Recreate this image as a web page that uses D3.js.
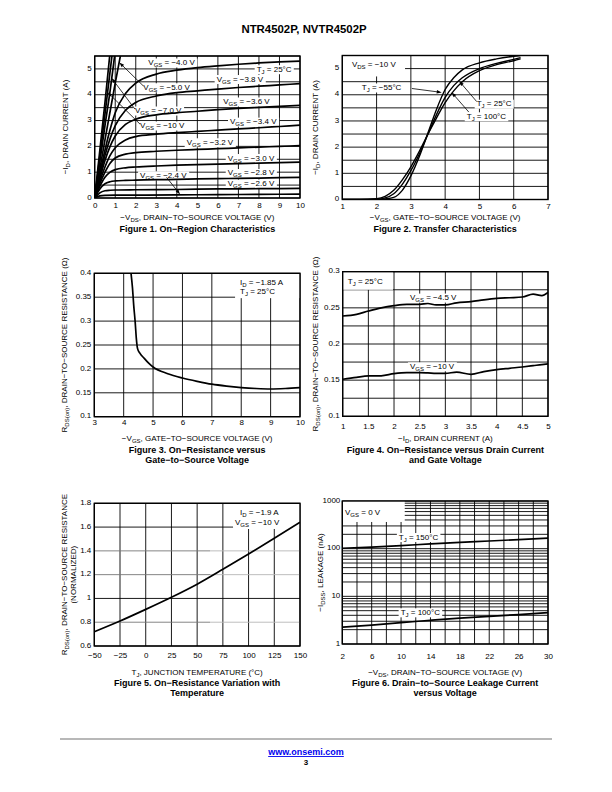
<!DOCTYPE html>
<html><head><meta charset="utf-8">
<script src="https://cdn.jsdelivr.net/npm/d3@7/dist/d3.min.js"></script>
<style>
body{margin:0;background:#fff}
svg{display:block}
text{font-family:"Liberation Sans",Arial,Helvetica,sans-serif;fill:#000}
</style>
</head><body>
<svg id="page" width="612" height="792"></svg>
<script>
// ---------------- DATA ----------------
// Figure 1: On-Region Characteristics (-VDS [V], -ID [A])
const fig1XTicks = [0,1,2,3,4,5,6,7,8,9,10];
const fig1YTicks = [0,1,2,3,4,5];
const fig1Vgs10 = [[0,0],[0.25,1.85],[0.5,3.7],[0.73,5.5]];
const fig1Vgs7  = [[0,0],[0.25,1.62],[0.5,3.25],[0.84,5.5]];
const fig1Vgs5  = [[0,0],[0.25,1.4],[0.5,2.8],[0.75,4.15],[0.97,5.5]];
const fig1Vgs45 = [[0,0],[0.25,1.12],[0.5,2.25],[0.75,3.35],[1.0,4.45],[1.25,5.5]];
const fig1Vgs40 = [[0,0],[0.25,0.95],[0.5,1.85],[0.75,2.65],[1,3.3],[1.5,4.05],[2,4.45],[3,4.8],[4,4.95],[5,5.05],[6,5.12],[7,5.18],[8,5.23],[9,5.27],[10,5.3]];
const fig1Vgs38 = [[0,0],[0.25,0.85],[0.5,1.65],[0.75,2.3],[1,2.8],[1.5,3.4],[2,3.7],[3,3.95],[4,4.08],[5,4.15],[6,4.22],[7,4.28],[8,4.33],[9,4.38],[10,4.43]];
const fig1Vgs36 = [[0,0],[0.25,0.75],[0.5,1.45],[0.75,2.0],[1,2.4],[1.5,2.85],[2,3.05],[3,3.22],[4,3.3],[5,3.36],[6,3.42],[7,3.47],[8,3.51],[9,3.55],[10,3.59]];
const fig1Vgs34 = [[0,0],[0.25,0.65],[0.5,1.2],[0.75,1.65],[1,1.95],[1.5,2.25],[2,2.38],[3,2.47],[4,2.53],[5,2.58],[6,2.63],[7,2.68],[8,2.72],[9,2.77],[10,2.82]];
const fig1Vgs32 = [[0,0],[0.25,0.55],[0.5,1.0],[0.75,1.35],[1,1.55],[1.5,1.7],[2,1.76],[3,1.81],[4,1.85],[5,1.88],[6,1.91],[7,1.94],[8,1.97],[9,2.0],[10,2.03]];
const fig1Vgs30 = [[0,0],[0.25,0.45],[0.5,0.8],[0.75,1.0],[1,1.1],[1.5,1.17],[2,1.2],[3,1.24],[4,1.27],[5,1.29],[6,1.31],[7,1.33],[8,1.35],[9,1.37],[10,1.39]];
const fig1Vgs28 = [[0,0],[0.25,0.35],[0.5,0.55],[0.75,0.63],[1,0.66],[1.5,0.68],[2,0.69],[3,0.71],[4,0.72],[5,0.74],[6,0.75],[7,0.76],[8,0.77],[9,0.79],[10,0.8]];
const fig1Vgs26 = [[0,0],[0.25,0.2],[0.5,0.28],[0.75,0.3],[1,0.31],[2,0.32],[4,0.33],[6,0.35],[8,0.36],[10,0.37]];
const fig1Vgs24 = [[0,0],[0.25,0.08],[0.5,0.1],[1,0.11],[2,0.11],[4,0.12],[6,0.13],[8,0.14],[10,0.15]];

// Figure 2: Transfer Characteristics (-VGS [V], -ID [A])
const fig2XTicks = [1,2,3,4,5,6,7];
const fig2YTicks = [0,1,2,3,4,5];
const fig2Vgs    = [1, 1.5, 2, 2.25, 2.5, 2.75, 3, 3.25, 3.5, 3.75, 4, 4.25, 4.5, 5, 5.5, 6, 6.2];
const fig2IdM55  = [0, 0, 0, 0.02, 0.08, 0.35, 0.9, 1.65, 2.55, 3.45, 4.2, 4.65, 4.95, 5.22, 5.37, 5.47, 5.5];
const fig2Id25   = [0, 0, 0.01, 0.06, 0.22, 0.58, 1.1, 1.75, 2.5, 3.25, 3.9, 4.35, 4.65, 5.0, 5.2, 5.35, 5.42];
const fig2Id100  = [0, 0, 0.03, 0.12, 0.35, 0.75, 1.25, 1.85, 2.5, 3.12, 3.7, 4.15, 4.5, 4.92, 5.15, 5.3, 5.37];

// Figure 3: RDS(on) vs -VGS
const fig3XTicks = [3,4,5,6,7,8,9,10];
const fig3YTicks = [0.1,0.15,0.2,0.25,0.3,0.35,0.4];
const fig3Vgs = [4.25, 4.3, 4.34, 4.39, 4.43, 4.47, 4.55, 4.7, 4.85, 5, 5.5, 6, 6.5, 7, 7.5, 8, 8.5, 9, 9.5, 10];
const fig3Rds = [0.4, 0.369, 0.334, 0.299, 0.264, 0.243, 0.233, 0.222, 0.212, 0.204, 0.19, 0.181, 0.174, 0.168, 0.164, 0.161, 0.159, 0.158, 0.159, 0.161];

// Figure 4: RDS(on) vs -ID
const fig4XTicks = [1,1.5,2,2.5,3,3.5,4,4.5,5];
const fig4YTicks = [0.1,0.15,0.2,0.25,0.3];
const fig4Id    = [1, 1.27, 1.5, 1.75, 2, 2.25, 2.5, 2.66, 2.82, 3, 3.22, 3.5, 3.75, 4, 4.25, 4.5, 4.71, 4.88, 5];
const fig4Rds45 = [0.2387, 0.241, 0.2456, 0.250, 0.253, 0.2548, 0.2548, 0.256, 0.254, 0.254, 0.257, 0.2585, 0.261, 0.263, 0.264, 0.265, 0.269, 0.267, 0.2714];
const fig4Rds10 = [0.1512, 0.1539, 0.1558, 0.156, 0.159, 0.1604, 0.1604, 0.16, 0.1594, 0.1594, 0.161, 0.1581, 0.1618, 0.1645, 0.1664, 0.1682, 0.170, 0.1715, 0.1724];

// Figure 5: normalized RDS(on) vs TJ
const fig5XTicks = [-50,-25,0,25,50,75,100,125,150];
const fig5YTicks = [0.6,0.8,1,1.2,1.4,1.6,1.8];
const fig5Tj  = [-50, -25, 0, 25, 50, 75, 100, 125, 150];
const fig5Rds = [0.72, 0.81, 0.908, 1.01, 1.12, 1.245, 1.374, 1.506, 1.64];

// Figure 6: -IDSS leakage vs -VDS
const fig6XTicks = [2,6,10,14,18,22,26,30];
const fig6YTicks = [1,10,100,1000];
const fig6Vds  = [2, 6, 10, 14, 18, 22, 26, 30];
const fig6I150 = [102, 108, 116, 126, 136, 145, 155, 166];
const fig6I100 = [2.25, 2.5, 2.8, 3.15, 3.5, 3.8, 4.15, 4.55];

// ---------------- DRAWING ----------------
const svg = d3.select("#page");
const FS = 8;

function rich(t, parts, subSize) {
  let shifted = false;
  parts.forEach(p => {
    const s = t.append("tspan").text(p[0]);
    if (p[1] === "sub") { s.attr("font-size", subSize || 6).attr("dy", 2); shifted = true; }
    else if (shifted) { s.attr("dy", -2); shifted = false; }
  });
  return t;
}
const zip = (xs, ys) => xs.map((v, i) => [v, ys[i]]);

function panel(c) {
  const g = svg.append("g");
  const x = (c.xLog ? d3.scaleLog() : d3.scaleLinear()).domain(c.xDomain).range([c.L, c.R]);
  const y = (c.yLog ? d3.scaleLog() : d3.scaleLinear()).domain(c.yDomain).range([c.B, c.T]);
  const id = "clip" + c.id;
  g.append("clipPath").attr("id", id).append("rect")
    .attr("x", c.L).attr("y", c.T).attr("width", c.R - c.L).attr("height", c.B - c.T);
  g.append("rect").attr("x", c.L).attr("y", c.T).attr("width", c.R - c.L).attr("height", c.B - c.T).attr("fill", "#fff");
  const grid = g.append("g").attr("stroke", "#000").attr("stroke-width", 0.9);
  c.xGrid.forEach(v => grid.append("line").attr("x1", x(v)).attr("x2", x(v)).attr("y1", c.T).attr("y2", c.B));
  c.yGrid.forEach(v => {
    if (c.graySplit && c.graySplit.values.includes(v)) {
      grid.append("line").attr("x1", c.L).attr("x2", x(c.graySplit.at)).attr("y1", y(v)).attr("y2", y(v)).attr("stroke", "#777");
      grid.append("line").attr("x1", x(c.graySplit.at)).attr("x2", c.R).attr("y1", y(v)).attr("y2", y(v)).attr("stroke", "#b5b5b5");
    } else {
      grid.append("line").attr("x1", c.L).attr("x2", c.R).attr("y1", y(v)).attr("y2", y(v));
    }
  });
  const boxLayer = g.append("g");
  const curveLayer = g.append("g").attr("clip-path", `url(#${id})`);
  const line = d3.line().x(d => x(d[0])).y(d => y(d[1])).curve(d3.curveMonotoneX);
  c.series.forEach(s => curveLayer.append("path").attr("d", line(s)).attr("fill", "none")
    .attr("stroke", "#000").attr("stroke-width", c.curveW || 1.7).attr("stroke-linejoin", "round"));
  g.append("rect").attr("x", c.L).attr("y", c.T).attr("width", c.R - c.L).attr("height", c.B - c.T)
    .attr("fill", "none").attr("stroke", "#000").attr("stroke-width", 1.4);

  // axes (tick labels only)
  const fmt = c.fmt || d3.format("");
  const xa = g.append("g").attr("transform", `translate(0,${c.B})`)
    .call(d3.axisBottom(x).tickValues(c.xTicks).tickSize(0).tickPadding(c.xPad || 4).tickFormat(fmt));
  const ya = g.append("g").attr("transform", `translate(${c.L},0)`)
    .call(d3.axisLeft(y).tickValues(c.yTicks).tickSize(0).tickPadding(c.yPad || 3).tickFormat(fmt));
  [xa, ya].forEach(a => {
    a.select(".domain").remove();
    a.selectAll("text").attr("font-size", FS).attr("font-family", null).attr("fill", "#000");
  });
  ya.selectAll("text").attr("dy", "0.15em");

  // annotations
  const noteLayer = g.append("g");
  (c.notes || []).forEach(n => {
    const t = noteLayer.append("text").attr("x", x(n.x)).attr("y", y(n.y)).attr("dy", "0.35em")
      .attr("font-size", FS).attr("text-anchor", n.anchor || "start");
    rich(t, n.parts);
    let bx;
    if (n.box) {
      bx = {x: x(n.box[0]), y: y(n.box[3]), w: x(n.box[2]) - x(n.box[0]), h: y(n.box[1]) - y(n.box[3])};
    } else {
      const b = t.node().getBBox();
      bx = {x: b.x - 2, y: b.y + 0.5, w: b.width + 4, h: b.height - 1};
    }
    boxLayer.append("rect").attr("x", bx.x).attr("y", bx.y).attr("width", bx.w).attr("height", bx.h).attr("fill", "#fff");
  });
  (c.arrows || []).forEach(a => {
    const x0 = x(a[0]), y0 = y(a[1]), x1 = x(a[2]), y1 = y(a[3]);
    const ang = Math.atan2(y1 - y0, x1 - x0), L = 5, W = 1.7;
    noteLayer.append("line").attr("x1", x0).attr("y1", y0)
      .attr("x2", x1 - Math.cos(ang) * L * 0.8).attr("y2", y1 - Math.sin(ang) * L * 0.8)
      .attr("stroke", "#000").attr("stroke-width", 0.8);
    const bxp = x1 - Math.cos(ang) * L, byp = y1 - Math.sin(ang) * L;
    noteLayer.append("path").attr("d",
      `M${x1},${y1}L${bxp + Math.sin(ang) * W},${byp - Math.cos(ang) * W}L${bxp - Math.sin(ang) * W},${byp + Math.cos(ang) * W}Z`)
      .attr("fill", "#000");
  });

  // axis titles
  const cx = (c.L + c.R) / 2, cy = (c.T + c.B) / 2;
  rich(g.append("text").attr("x", cx).attr("y", c.xTitleY).attr("text-anchor", "middle").attr("font-size", FS), c.xTitle);
  c.yTitles.forEach(yt => {
    rich(g.append("text").attr("transform", `translate(${yt.x},${cy}) rotate(-90)`).attr("dy", "0.35em")
      .attr("text-anchor", "middle").attr("font-size", FS), yt.parts);
  });
  c.caption.forEach((cap, i) => {
    g.append("text").attr("x", cx).attr("y", c.capY + i * 10.8).attr("text-anchor", "middle")
      .attr("font-size", 9).attr("font-weight", "bold").text(cap);
  });
}

// header
svg.append("text").attr("x", 304).attr("y", 32.5).attr("text-anchor", "middle")
  .attr("font-size", 11.4).attr("font-weight", "bold").text("NTR4502P, NVTR4502P");

const VGS = v => [["V"], ["GS", "sub"], [" = −" + v + " V"]];
const TJ = v => [["T"], ["J", "sub"], [" = " + v + "°C"]];
const rdsTitle = [["R"], ["DS(on)", "sub"], [", DRAIN−TO−SOURCE RESISTANCE (Ω)"]];

// Figure 1
panel({
  id: 1, L: 94.7, R: 300, T: 56, B: 198,
  xDomain: [0, 10], yDomain: [0, 5.5],
  xGrid: d3.range(0, 10.01, 1), yGrid: d3.range(0, 5.51, 0.5),
  xTicks: fig1XTicks, yTicks: fig1YTicks, xPad: 4.3,
  series: [fig1Vgs10, fig1Vgs7, fig1Vgs5, fig1Vgs45, fig1Vgs40, fig1Vgs38, fig1Vgs36, fig1Vgs34, fig1Vgs32, fig1Vgs30, fig1Vgs28, fig1Vgs26, fig1Vgs24],
  notes: [
    {parts: VGS("4.0"), x: 2.61, y: 5.26},
    {parts: TJ("25"), x: 7.89, y: 5.0},
    {parts: VGS("3.8"), x: 5.94, y: 4.62},
    {parts: VGS("5.0"), x: 2.37, y: 4.30},
    {parts: VGS("3.6"), x: 6.26, y: 3.75},
    {parts: VGS("7.0"), x: 1.96, y: 3.40},
    {parts: VGS("3.4"), x: 6.59, y: 2.97},
    {parts: VGS("10"), x: 2.21, y: 2.82},
    {parts: VGS("3.2"), x: 4.48, y: 2.17},
    {parts: VGS("3.0"), x: 6.48, y: 1.56},
    {parts: VGS("2.8"), x: 6.48, y: 0.98},
    {parts: VGS("2.4"), x: 2.21, y: 0.89},
    {parts: VGS("2.6"), x: 6.48, y: 0.57}
  ],
  arrows: [[2.37, 4.34, 1.2, 5.25], [1.96, 3.44, 0.82, 4.65], [2.21, 2.86, 0.62, 4.1], [3.5, 0.8, 4.16, 0.14]],
  xTitle: [["−V"], ["DS", "sub"], [", DRAIN−TO−SOURCE VOLTAGE (V)"]], xTitleY: 220,
  yTitles: [{x: 65, parts: [["−I"], ["D", "sub"], [", DRAIN CURRENT (A)"]]}],
  caption: ["Figure 1. On−Region Characteristics"], capY: 231.8
});

// Figure 2
panel({
  id: 2, L: 342.3, R: 548, T: 55.5, B: 199.5,
  xDomain: [1, 7], yDomain: [0, 5.5],
  xGrid: d3.range(1, 7.01, 1), yGrid: d3.range(0, 5.51, 0.5),
  xTicks: fig2XTicks, yTicks: fig2YTicks, xPad: 4, curveW: 1.4,
  series: [zip(fig2Vgs, fig2IdM55), zip(fig2Vgs, fig2Id25), zip(fig2Vgs, fig2Id100)],
  notes: [
    {parts: [["V"], ["DS", "sub"], [" = −10 V"]], x: 1.28, y: 5.17, box: [1.0, 4.7, 2.83, 5.5]},
    {parts: TJ("−55"), x: 1.57, y: 4.29},
    {parts: TJ("25"), x: 4.92, y: 3.67},
    {parts: TJ("100"), x: 4.63, y: 3.19}
  ],
  arrows: [[3.03, 4.24, 3.9, 4.09], [4.92, 3.74, 4.41, 4.52], [4.69, 3.34, 4.19, 4.09]],
  xTitle: [["−V"], ["GS", "sub"], [", GATE−TO−SOURCE VOLTAGE (V)"]], xTitleY: 220,
  yTitles: [{x: 315.5, parts: [["−I"], ["D", "sub"], [", DRAIN CURRENT (A)"]]}],
  caption: ["Figure 2. Transfer Characteristics"], capY: 231.8
});

// Figure 3
panel({
  id: 3, L: 94.3, R: 300, T: 273.3, B: 416.7,
  xDomain: [3, 10], yDomain: [0.1, 0.4],
  xGrid: d3.range(3, 10.01, 1), yGrid: d3.range(0.1, 0.401, 0.05),
  xTicks: fig3XTicks, yTicks: fig3YTicks, xPad: 3,
  series: [zip(fig3Vgs, fig3Rds)],
  notes: [
    {parts: [["I"], ["D", "sub"], [" = −1.85 A"]], x: 7.96, y: 0.381, box: [7.79, 0.348, 10, 0.4]},
    {parts: TJ("25"), x: 7.96, y: 0.363}
  ],
  xTitle: [["−V"], ["GS", "sub"], [", GATE−TO−SOURCE VOLTAGE (V)"]], xTitleY: 441,
  yTitles: [{x: 64, parts: rdsTitle}],
  caption: ["Figure 3. On−Resistance versus", "Gate−to−Source Voltage"], capY: 452.5
});

// Figure 4
panel({
  id: 4, L: 342.7, R: 548, T: 271.7, B: 416.3,
  xDomain: [1, 5], yDomain: [0.1, 0.3],
  xGrid: d3.range(1, 5.01, 0.5), yGrid: d3.range(0.1, 0.301, 0.025),
  xTicks: fig4XTicks, yTicks: fig4YTicks, xPad: 7,
  series: [zip(fig4Id, fig4Rds45), zip(fig4Id, fig4Rds10)],
  notes: [
    {parts: TJ("25"), x: 1.10, y: 0.287, box: [1.0, 0.275, 1.98, 0.3]},
    {parts: VGS("4.5"), x: 2.31, y: 0.2646},
    {parts: VGS("10"), x: 2.31, y: 0.1696}
  ],
  xTitle: [["−I"], ["D", "sub"], [", DRAIN CURRENT (A)"]], xTitleY: 441,
  yTitles: [{x: 315, parts: rdsTitle}],
  caption: ["Figure 4. On−Resistance versus Drain Current", "and Gate Voltage"], capY: 452.5
});

// Figure 5
panel({
  id: 5, L: 94.3, R: 300, T: 503.3, B: 646,
  xDomain: [-50, 150], yDomain: [0.6, 1.8],
  xGrid: d3.range(-50, 150.1, 25), yGrid: d3.range(0.6, 1.801, 0.2).map(v => +v.toFixed(1)),
  graySplit: {values: [0.8, 1.2, 1.4], at: 62.5},
  xTicks: fig5XTicks, yTicks: fig5YTicks, xPad: 6.5,
  series: [zip(fig5Tj, fig5Rds)],
  notes: [
    {parts: [["I"], ["D", "sub"], [" = −1.9 A"]], x: 91.7, y: 1.721, box: [84.9, 1.584, 150, 1.8]},
    {parts: [["V"], ["GS", "sub"], [" = −10 V"]], x: 86.8, y: 1.645}
  ],
  xTitle: [["T"], ["J", "sub"], [", JUNCTION TEMPERATURE (°C)"]], xTitleY: 674.5,
  yTitles: [{x: 63.7, parts: [["R"], ["DS(on)", "sub"], [", DRAIN−TO−SOURCE RESISTANCE"]]},
            {x: 73, parts: [["(NORMALIZED)"]]}],
  caption: ["Figure 5. On−Resistance Variation with", "Temperature"], capY: 685.5
});

// Figure 6
const fig6YGrid = [];
[1, 10, 100].forEach(d => [1,2,3,4,5,6,7,8,9].forEach(m => fig6YGrid.push(d * m)));
fig6YGrid.push(1000);
panel({
  id: 6, L: 342.3, R: 548, T: 501, B: 644,
  xDomain: [2, 30], yDomain: [1, 1000], yLog: true,
  xGrid: d3.range(2, 30.1, 2), yGrid: fig6YGrid,
  xTicks: fig6XTicks, yTicks: fig6YTicks, xPad: 9, yPad: 2,
  series: [zip(fig6Vds, fig6I150), zip(fig6Vds, fig6I100)],
  notes: [
    {parts: [["V"], ["GS", "sub"], [" = 0 V"]], x: 2.37, y: 596, box: [2, 363, 10.5, 1000]},
    {parts: TJ("150"), x: 9.7, y: 178},
    {parts: TJ("100"), x: 9.94, y: 4.69}
  ],
  xTitle: [["−V"], ["DS", "sub"], [", DRAIN−TO−SOURCE VOLTAGE (V)"]], xTitleY: 674.5,
  yTitles: [{x: 320, parts: [["−I"], ["DSS", "sub"], [", LEAKAGE (nA)"]]}],
  caption: ["Figure 6. Drain−to−Source Leakage Current", "versus Voltage"], capY: 685.5
});

// footer
svg.append("line").attr("x1", 60).attr("x2", 552).attr("y1", 739).attr("y2", 739)
  .attr("stroke", "#b8b8b8").attr("stroke-width", 2);
svg.append("text").attr("x", 306).attr("y", 755).attr("text-anchor", "middle")
  .attr("font-size", 9).attr("font-weight", "bold").attr("fill", "#0000ee")
  .attr("text-decoration", "underline").style("fill", "#0000ee").text("www.onsemi.com");
svg.append("text").attr("x", 306).attr("y", 765).attr("text-anchor", "middle")
  .attr("font-size", 8).attr("font-weight", "bold").text("3");
</script>
</body></html>
